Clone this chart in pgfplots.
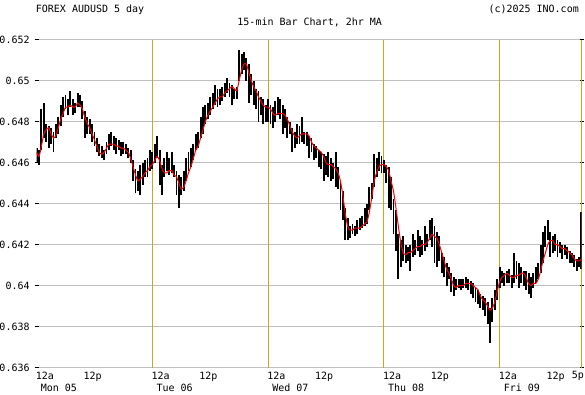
\documentclass[border=0pt]{standalone}
\usepackage{fontspec}
\setmainfont{DejaVu Sans Mono}
\usepackage{pgfplots}
\pgfplotsset{compat=1.18}
\usepackage{pgfplotstable}
\definecolor{gridgray}{RGB}{192,192,192}
\definecolor{dayline}{RGB}{218,160,32}

\pgfplotstableread{
t lo hi
0.0 0.6460 0.6467
0.5 0.6459 0.6466
1.0 0.6466 0.6486
1.5 0.6472 0.6489
2.0 0.6470 0.6479
2.5 0.6467 0.6478
3.0 0.6469 0.6477
3.5 0.6465 0.6475
4.0 0.6472 0.6479
4.5 0.6474 0.6482
5.0 0.6478 0.6488
5.5 0.6482 0.6492
6.0 0.6486 0.6493
6.5 0.6483 0.6491
7.0 0.6487 0.6495
7.5 0.6483 0.6491
8.0 0.6484 0.6489
8.5 0.6487 0.6494
9.0 0.6487 0.6493
9.5 0.6481 0.6490
10.0 0.6472 0.6485
10.5 0.6474 0.6482
11.0 0.6474 0.6481
11.5 0.6470 0.6479
12.0 0.6468 0.6475
12.5 0.6465 0.6472
13.0 0.6463 0.6469
13.5 0.6462 0.6468
14.0 0.6461 0.6466
14.5 0.6464 0.6470
15.0 0.6466 0.6474
15.5 0.6468 0.6475
16.0 0.6466 0.6473
16.5 0.6464 0.6472
17.0 0.6466 0.6471
17.5 0.6463 0.6470
18.0 0.6464 0.6470
18.5 0.6464 0.6469
19.0 0.6462 0.6467
19.5 0.6460 0.6466
20.0 0.6451 0.6461
20.5 0.6445 0.6457
21.0 0.6446 0.6456
21.5 0.6444 0.6459
22.0 0.6449 0.6460
22.5 0.6453 0.6461
23.0 0.6453 0.6462
23.5 0.6456 0.6466
24.0 0.6457 0.6465
24.5 0.6460 0.6469
25.0 0.6462 0.6473
25.5 0.6449 0.6466
26.0 0.6444 0.6459
26.5 0.6453 0.6462
27.0 0.6456 0.6465
27.5 0.6454 0.6462
28.0 0.6455 0.6465
28.5 0.6453 0.6459
29.0 0.6444 0.6456
29.5 0.6438 0.6454
30.0 0.6444 0.6453
30.5 0.6446 0.6456
31.0 0.6451 0.6462
31.5 0.6456 0.6465
32.0 0.6458 0.6467
32.5 0.6461 0.6469
33.0 0.6466 0.6474
33.5 0.6467 0.6475
34.0 0.6472 0.6482
34.5 0.6474 0.6487
35.0 0.6479 0.6488
35.5 0.6481 0.6489
36.0 0.6483 0.6492
36.5 0.6486 0.6494
37.0 0.6488 0.6498
37.5 0.6487 0.6496
38.0 0.6488 0.6496
38.5 0.6490 0.6497
39.0 0.6492 0.6499
39.5 0.6494 0.6501
40.0 0.6492 0.6499
40.5 0.6488 0.6498
41.0 0.6491 0.6496
41.5 0.6491 0.6497
42.0 0.6500 0.6515
42.5 0.6503 0.6513
43.0 0.6505 0.6514
43.5 0.6500 0.6511
44.0 0.6489 0.6508
44.5 0.6493 0.6503
45.0 0.6488 0.6500
45.5 0.6486 0.6496
46.0 0.6480 0.6495
46.5 0.6483 0.6492
47.0 0.6479 0.6491
47.5 0.6480 0.6488
48.0 0.6480 0.6491
48.5 0.6479 0.6488
49.0 0.6477 0.6487
49.5 0.6480 0.6490
50.0 0.6483 0.6492
50.5 0.6481 0.6491
51.0 0.6474 0.6488
51.5 0.6477 0.6486
52.0 0.6472 0.6482
52.5 0.6474 0.6480
53.0 0.6465 0.6477
53.5 0.6467 0.6475
54.0 0.6469 0.6479
54.5 0.6469 0.6478
55.0 0.6470 0.6482
55.5 0.6469 0.6475
56.0 0.6468 0.6475
56.5 0.6462 0.6473
57.0 0.6465 0.6472
57.5 0.6461 0.6469
58.0 0.6462 0.6468
58.5 0.6458 0.6466
59.0 0.6457 0.6465
59.5 0.6451 0.6464
60.0 0.6454 0.6463
60.5 0.6453 0.6465
61.0 0.6451 0.6462
61.5 0.6452 0.6460
62.0 0.6448 0.6465
62.5 0.6447 0.6458
63.0 0.6437 0.6451
63.5 0.6432 0.6446
64.0 0.6422 0.6438
64.5 0.6422 0.6433
65.0 0.6423 0.6429
65.5 0.6425 0.6430
66.0 0.6424 0.6429
66.5 0.6425 0.6432
67.0 0.6427 0.6433
67.5 0.6428 0.6434
68.0 0.6429 0.6438
68.5 0.6430 0.6440
69.0 0.6437 0.6448
69.5 0.6442 0.6450
70.0 0.6448 0.6464
70.5 0.6453 0.6462
71.0 0.6456 0.6465
71.5 0.6455 0.6463
72.0 0.6455 0.6461
72.5 0.6450 0.6459
73.0 0.6438 0.6458
73.5 0.6437 0.6453
74.0 0.6425 0.6442
74.5 0.6417 0.6437
75.0 0.6403 0.6425
75.5 0.6409 0.6422
76.0 0.6412 0.6424
76.5 0.6411 0.6420
77.0 0.6412 0.6419
77.5 0.6407 0.6420
78.0 0.6414 0.6425
78.5 0.6415 0.6422
79.0 0.6417 0.6427
79.5 0.6414 0.6424
80.0 0.6415 0.6422
80.5 0.6417 0.6429
81.0 0.6419 0.6425
81.5 0.6422 0.6432
82.0 0.6419 0.6433
82.5 0.6411 0.6429
83.0 0.6409 0.6426
83.5 0.6412 0.6424
84.0 0.6406 0.6416
84.5 0.6404 0.6414
85.0 0.6400 0.6411
85.5 0.6403 0.6409
86.0 0.6397 0.6406
86.5 0.6395 0.6404
87.0 0.6398 0.6403
87.5 0.6399 0.6403
88.0 0.6398 0.6403
88.5 0.6399 0.6403
89.0 0.6399 0.6404
89.5 0.6398 0.6403
90.0 0.6396 0.6402
90.5 0.6394 0.6401
91.0 0.6392 0.6399
91.5 0.6391 0.6398
92.0 0.6389 0.6396
92.5 0.6388 0.6395
93.0 0.6385 0.6394
93.5 0.6381 0.6392
94.0 0.6372 0.6389
94.5 0.6382 0.6394
95.0 0.6388 0.6398
95.5 0.6393 0.6403
96.0 0.6399 0.6409
96.5 0.6401 0.6407
97.0 0.6400 0.6406
97.5 0.6401 0.6407
98.0 0.6401 0.6408
98.5 0.6399 0.6405
99.0 0.6401 0.6416
99.5 0.6403 0.6412
100.0 0.6399 0.6411
100.5 0.6401 0.6409
101.0 0.6400 0.6407
101.5 0.6398 0.6407
102.0 0.6396 0.6406
102.5 0.6394 0.6404
103.0 0.6399 0.6406
103.5 0.6401 0.6409
104.0 0.6403 0.6411
104.5 0.6406 0.6420
105.0 0.6411 0.6426
105.5 0.6419 0.6429
106.0 0.6422 0.6432
106.5 0.6414 0.6426
107.0 0.6416 0.6424
107.5 0.6417 0.6425
108.0 0.6414 0.6422
108.5 0.6416 0.6421
109.0 0.6413 0.6420
109.5 0.6415 0.6420
110.0 0.6413 0.6419
110.5 0.6411 0.6417
111.0 0.6411 0.6416
111.5 0.6409 0.6415
112.0 0.6407 0.6413
112.5 0.6409 0.6414
112.85 0.6408 0.6436
}\bars

\pgfplotstableread{
t ma
0 0.6465
0.5 0.6463
1 0.6468
1.5 0.6474
2 0.6476
2.5 0.6477
3 0.6474
3.5 0.6472
4 0.6473
4.5 0.6477
5 0.6481
5.5 0.6484
6 0.6487
6.5 0.6487
7 0.6488
7.5 0.6487
8 0.6487
8.5 0.6489
9 0.6488
9.5 0.6486
10 0.6482
10.5 0.6479
11 0.6477
11.5 0.6474
12 0.6471
12.5 0.6468
13 0.6465
13.5 0.6464
14 0.6465
14.5 0.6467
15 0.6469
15.5 0.6469
16 0.6469
16.5 0.6468
17 0.6468
17.5 0.6467
18 0.6467
18.5 0.6466
19 0.6465
19.5 0.6462
20 0.6458
20.5 0.6454
21 0.6451
21.5 0.6452
22 0.6453
22.5 0.6455
23 0.6456
23.5 0.6458
24 0.6459
24.5 0.6461
25 0.6463
25.5 0.6461
26 0.6457
26.5 0.6455
27 0.6455
27.5 0.6456
28 0.6456
28.5 0.6454
29 0.6453
29.5 0.6450
30 0.6447
30.5 0.6448
31 0.6451
31.5 0.6455
32 0.6458
32.5 0.6462
33 0.6466
33.5 0.6468
34 0.6472
34.5 0.6476
35 0.6480
35.5 0.6483
36 0.6485
36.5 0.6487
37 0.6489
37.5 0.6491
38 0.6492
38.5 0.6492
39 0.6494
39.5 0.6495
40 0.6496
40.5 0.6497
41 0.6496
41.5 0.6495
42 0.6500
42.5 0.6505
43 0.6508
43.5 0.6508
44 0.6504
44.5 0.6500
45 0.6497
45.5 0.6495
46 0.6492
46.5 0.6490
47 0.6488
47.5 0.6487
48 0.6487
48.5 0.6486
49 0.6484
49.5 0.6483
50 0.6484
50.5 0.6484
51 0.6484
51.5 0.6483
52 0.6481
52.5 0.6478
53 0.6475
53.5 0.6473
54 0.6472
54.5 0.6473
55 0.6474
55.5 0.6474
56 0.6474
56.5 0.6473
57 0.6470
57.5 0.6468
58 0.6467
58.5 0.6466
59 0.6465
59.5 0.6463
60 0.6460
60.5 0.6459
61 0.6459
61.5 0.6458
62 0.6457
62.5 0.6455
63 0.6451
63.5 0.6444
64 0.6435
64.5 0.6429
65 0.6427
65.5 0.6427
66 0.6428
66.5 0.6428
67 0.6428
67.5 0.6429
68 0.6430
68.5 0.6431
69 0.6436
69.5 0.6443
70 0.6451
70.5 0.6455
71 0.6458
71.5 0.6459
72 0.6459
72.5 0.6458
73 0.6456
73.5 0.6451
74 0.6446
74.5 0.6438
75 0.6429
75.5 0.6421
76 0.6416
76.5 0.6415
77 0.6416
77.5 0.6416
78 0.6417
78.5 0.6418
79 0.6419
79.5 0.6419
80 0.6420
80.5 0.6420
81 0.6421
81.5 0.6423
82 0.6425
82.5 0.6424
83 0.6423
83.5 0.6420
84 0.6416
84.5 0.6412
85 0.6408
85.5 0.6406
86 0.6403
86.5 0.6400
87 0.6399
87.5 0.6400
88 0.6400
88.5 0.6400
89 0.6401
89.5 0.6401
90 0.6401
90.5 0.6400
91 0.6399
91.5 0.6398
92 0.6395
92.5 0.6393
93 0.6392
93.5 0.6390
94 0.6388
94.5 0.6389
95 0.6392
95.5 0.6397
96 0.6402
96.5 0.6404
97 0.6405
97.5 0.6406
98 0.6405
98.5 0.6404
99 0.6404
99.5 0.6405
100 0.6405
100.5 0.6406
101 0.6406
101.5 0.6404
102 0.6401
102.5 0.6400
103 0.6401
103.5 0.6401
104 0.6403
104.5 0.6407
105 0.6412
105.5 0.6416
106 0.6420
106.5 0.6422
107 0.6422
107.5 0.6420
108 0.6420
108.5 0.6419
109 0.6418
109.5 0.6418
110 0.6417
110.5 0.6416
111 0.6415
111.5 0.6413
112 0.6412
112.5 0.6412
113 0.6413
}\ma

\begin{document}
\fontsize{10}{12}\selectfont
\begin{tikzpicture}
\useasboundingbox (0pt,0pt) rectangle (585pt,394pt);
\begin{axis}[
  at={(36.6pt,26.5pt)}, anchor=south west,
  scale only axis, width=545pt, height=328pt,
  xmin=0, xmax=113, ymin=0.636, ymax=0.652,
  axis line style={draw=none},
  ytick={0.636,0.638,0.640,0.642,0.644,0.646,0.648,0.650,0.652},
  ymajorgrids, grid style={gridgray, line width=1pt},
  scaled y ticks=false,
  /pgf/number format/assume math mode=true,
  yticklabel style={anchor=east, inner sep=0pt, xshift=-4.8pt,
    /pgf/number format/fixed, /pgf/number format/precision=3},
  ytick style={black, line width=1pt},
  major tick length=4pt, tick align=center,
  xtick={0,12,24,36,48,60,72,84,96,108,113},
  xticklabels={
    \rlap{\raisebox{-12pt}{\hspace*{5pt}Mon 05}}12a, \hspace*{-10pt}12p,
    \rlap{\raisebox{-12pt}{\hspace*{5pt}Tue 06}}12a, \hspace*{-10pt}12p,
    \rlap{\raisebox{-12pt}{\hspace*{5pt}Wed 07}}12a, \hspace*{-10pt}12p,
    \rlap{\raisebox{-12pt}{\hspace*{5pt}Thu 08}}12a, \hspace*{-10pt}12p,
    \rlap{\raisebox{-12pt}{\hspace*{5pt}Fri 09}}12a, \hspace*{-10pt}12p,
    \hspace*{-9pt}5p},
  xtick style={draw=none},
  xticklabel style={anchor=north west, inner sep=0pt, yshift=-2pt, xshift=-1pt},
  extra x ticks={24,48,72,96,113},
  extra x tick labels={},
  extra x tick style={grid=major, major grid style={dayline, line width=1pt}, tick style={draw=none}},
]
\addplot[draw=none, forget plot, error bars/.cd, y dir=plus, y explicit, error mark=none,
  error bar style={draw=black, line width=1.9pt}]
  table[x=t, y=lo, y error plus expr=\thisrow{hi}-\thisrow{lo}] {\bars};
\addplot[red, line width=1pt, smooth, tension=0.4] table[x=t, y=ma] {\ma};
\end{axis}
\node[anchor=base west, inner sep=0pt] at (35.7pt,381.3pt) {FOREX AUDUSD 5 day};
\node[anchor=base east, inner sep=0pt] at (579pt,381.3pt) {(c)2025 INO.com};
\node[anchor=base, inner sep=0pt] at (309.7pt,368.3pt) {15-min Bar Chart, 2hr MA};
\end{tikzpicture}
\end{document}
